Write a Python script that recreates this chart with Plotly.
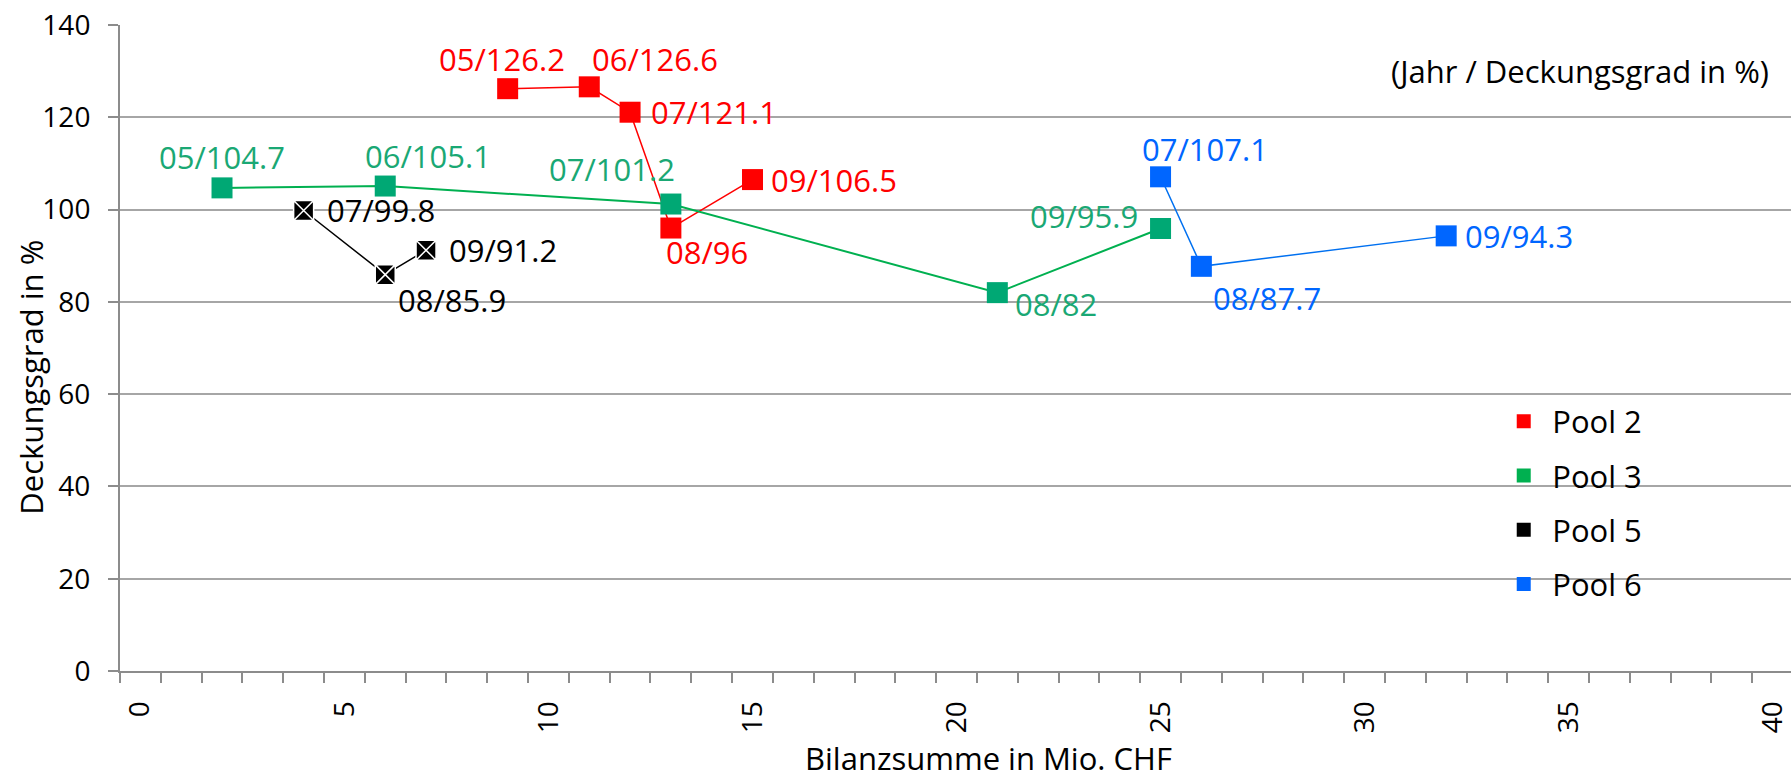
import plotly.graph_objects as go

# ---------------- data ----------------
pool_names = ["Pool 2", "Pool 3", "Pool 5", "Pool 6"]

p2_years = ["05", "06", "07", "08", "09"]
p2_x = [9, 11, 12, 13, 15]
p2_y = [126.2, 126.6, 121.1, 96, 106.5]

p3_years = ["05", "06", "07", "08", "09"]
p3_x = [2, 6, 13, 21, 25]
p3_y = [104.7, 105.1, 101.2, 82, 95.9]

p5_years = ["07", "08", "09"]
p5_x = [4, 6, 7]
p5_y = [99.8, 85.9, 91.2]

p6_years = ["07", "08", "09"]
p6_x = [25, 26, 32]
p6_y = [107.1, 87.7, 94.3]

x_tick_vals = list(range(0, 41, 5))
y_tick_vals = list(range(0, 141, 20))

# ---------------- styles ----------------
FONT = "Open Sans"
FS = 31        # labels, legend, titles
FS_TICK = 28   # tick labels
GRAY = "#8C8C8C"

styles = {
    "Pool 2": dict(marker="#FF0000", line="#FF0000", text="#FF0000", symbol="square", lw=1.5),
    "Pool 3": dict(marker="#00A874", line="#00B050", text="#1AA874", symbol="square", lw=2),
    "Pool 5": dict(marker="#000000", line="#000000", text="#000000", symbol="square-x", lw=1.5),
    "Pool 6": dict(marker="#0066FF", line="#0070F0", text="#0066FF", symbol="square", lw=1.5),
}
legend_colors = {"Pool 2": "#FF0000", "Pool 3": "#00B050", "Pool 5": "#000000", "Pool 6": "#0066FF"}

# label placement per point: (xanchor, xshift px, yshift px)
placements = {
    "Pool 2": [("center", -6, 30), ("left", 1, 28), ("left", 19, 0), ("center", 36, -24), ("left", 17, 0)],
    "Pool 3": [("center", 0, 31), ("left", -22, 30), ("right", 6, 35), ("left", 16, -11), ("right", -21, 12)],
    "Pool 5": [("left", 21, 0), ("left", 11, -25), ("left", 21, 0)],
    "Pool 6": [("left", -21, 28), ("left", 10, -32), ("left", 17, 0)],
}

series = {
    "Pool 2": (p2_years, p2_x, p2_y),
    "Pool 3": (p3_years, p3_x, p3_y),
    "Pool 5": (p5_years, p5_x, p5_y),
    "Pool 6": (p6_years, p6_x, p6_y),
}

fig = go.Figure()
annotations = []
for name in pool_names:
    yrs, xs, ys = series[name]
    st = styles[name]
    if name == "Pool 5":
        mk = dict(symbol=st["symbol"], size=20, color=st["marker"], line=dict(color="white", width=1.5))
    else:
        mk = dict(symbol=st["symbol"], size=21, color=st["marker"], line=dict(width=0))
    fig.add_trace(go.Scatter(
        x=xs, y=ys, mode="lines+markers", name=name, showlegend=False,
        line=dict(color=st["line"], width=st["lw"]), marker=mk, cliponaxis=False,
    ))
    for (yr, xv, yv), (xa, xsft, ysft) in zip(zip(yrs, xs, ys), placements[name]):
        annotations.append(dict(
            x=xv, y=yv, xref="x", yref="y", text=f"{yr}/{yv:g}", showarrow=False,
            xanchor=xa, yanchor="middle", xshift=xsft, yshift=ysft,
            font=dict(family=FONT, size=FS, color=st["text"]),
        ))

# legend-only traces (plain squares)
for name in pool_names:
    fig.add_trace(go.Scatter(
        x=[None], y=[None], mode="markers", name=name, legendgroup=name,
        marker=dict(symbol="square", size=22, color=legend_colors[name],
                    line=dict(color=legend_colors[name], width=5)),
    ))

annotations += [
    dict(x=0.988, y=0.929, xref="paper", yref="paper", text="(Jahr / Deckungsgrad in %)",
         showarrow=False, xanchor="right", yanchor="middle",
         font=dict(family=FONT, size=FS, color="black")),
    dict(x=0.52, y=-0.135, xref="paper", yref="paper", text="Bilanzsumme in Mio. CHF",
         showarrow=False, xanchor="center", yanchor="middle",
         font=dict(family=FONT, size=FS, color="black")),
    dict(x=-0.0535, y=0.455, xref="paper", yref="paper", text="Deckungsgrad in %",
         showarrow=False, xanchor="center", yanchor="middle", textangle=-90,
         font=dict(family=FONT, size=FS, color="black")),
]

fig.update_layout(
    width=1791, height=779,
    margin=dict(l=120, r=0, t=25, b=108),
    paper_bgcolor="white", plot_bgcolor="white",
    font=dict(family=FONT, size=FS, color="black"),
    annotations=annotations,
    showlegend=True,
    legend=dict(x=0.823, y=0.428, xanchor="left", yanchor="top",
                font=dict(family=FONT, size=FS, color="black"),
                tracegroupgap=11, itemsizing="constant", itemwidth=47,
                bgcolor="rgba(0,0,0,0)"),
    xaxis=dict(
        range=[-0.5, 40.45], tickmode="array", tickvals=x_tick_vals,
        tickangle=-90, ticks="", ticklabelstandoff=17,
        tickfont=dict(family=FONT, size=FS_TICK, color="black"),
        minor=dict(ticks="outside", ticklen=10, tickcolor=GRAY, tickwidth=1.5,
                   tick0=0.5, dtick=1, showgrid=False),
        showline=True, linecolor=GRAY, linewidth=2,
        showgrid=False, zeroline=False,
    ),
    yaxis=dict(
        range=[0, 140], tickmode="array", tickvals=y_tick_vals,
        ticks="outside", ticklen=10, tickcolor=GRAY, tickwidth=1.5,
        ticklabelstandoff=12,
        tickfont=dict(family=FONT, size=FS_TICK, color="black"),
        showline=True, linecolor=GRAY, linewidth=2,
        showgrid=True, gridcolor="#A6A6A6", gridwidth=1.5, zeroline=False,
    ),
)

fig.write_html("out.html", config={"displayModeBar": False},
               post_script="document.body.style.margin='0';")
